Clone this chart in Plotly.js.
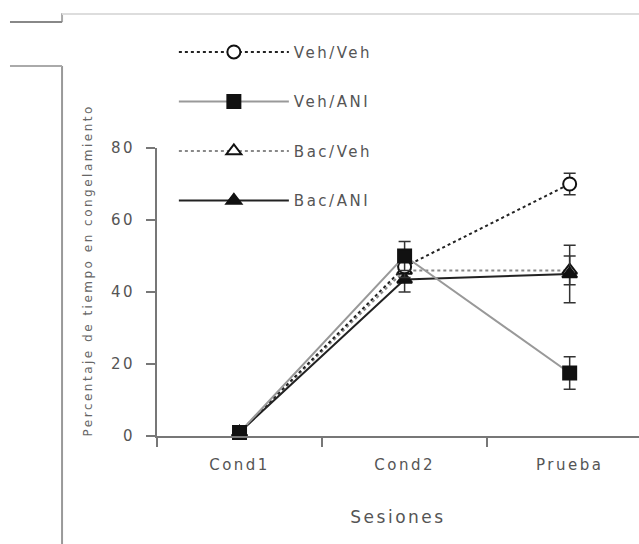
<!DOCTYPE html>
<html>
<head>
<meta charset="utf-8">
<script src="https://cdn.plot.ly/plotly-3.0.1.min.js"></script>
<style>
html,body{margin:0;padding:0;background:#fff;}
#chart{width:639px;height:544px;}
svg text{letter-spacing:2.5px;}
</style>
</head>
<body>
<div id="chart"></div>
<script>
// ---- data ----
var sessions = ['Cond1', 'Cond2', 'Prueba'];
var vehVeh = [1, 47, 70];
var vehVehErr = [0.5, 3, 3];
var vehAni = [1, 50, 17.5];
var vehAniErr = [0.5, 4, 4.5];
var bacVeh = [1, 46, 46];
var bacVehErr = [0.5, 3, 4];
var bacAni = [1, 43.5, 45];
var bacAniErr = [0.5, 3.5, 8];
var seriesNames = ['Veh/Veh', 'Veh/ANI', 'Bac/Veh', 'Bac/ANI'];
var yTicks = [0, 20, 40, 60, 80];

function tr(name, y, err, lineColor, dash, symbol, fill, group, rank) {
  return {
    type: 'scatter', mode: 'lines+markers', name: name, x: sessions, y: y,
    legendgroup: group, legendrank: rank, cliponaxis: false,
    line: {color: lineColor, width: 2, dash: dash},
    marker: {symbol: symbol, size: 13, color: fill, line: {color: '#111', width: 2}},
    error_y: {type: 'data', array: err, visible: true, color: '#333', thickness: 1.5, width: 6}
  };
}

var data = [
  tr(seriesNames[2], bacVeh, bacVehErr, '#888', 'dot', 'triangle-up', '#fff', 'c', 3),
  tr(seriesNames[3], bacAni, bacAniErr, '#222', 'solid', 'triangle-up', '#111', 'd', 4),
  tr(seriesNames[0], vehVeh, vehVehErr, '#222', 'dot', 'circle', '#fff', 'a', 1),
  tr(seriesNames[1], vehAni, vehAniErr, '#999', 'solid', 'square', '#111', 'b', 2)
];

var fam = 'DejaVu Sans, Arial, sans-serif';

var layout = {
  width: 639, height: 544,
  margin: {l: 157, r: 0, t: 148, b: 108, pad: 0},
  paper_bgcolor: '#fff', plot_bgcolor: '#fff',
  font: {family: fam, size: 15, color: '#555'},
  showlegend: true,
  legend: {
    x: 0.035, y: 1.39, xanchor: 'left', yanchor: 'top',
    traceorder: 'grouped', tracegroupgap: 27, itemwidth: 110,
    bgcolor: 'rgba(0,0,0,0)', font: {family: fam, size: 15, color: '#555'}
  },
  xaxis: {
    type: 'category', range: [-0.5, 2.42], fixedrange: true,
    showline: true, linecolor: '#777', linewidth: 2,
    ticks: 'outside', tickson: 'boundaries', ticklen: 9, tickcolor: '#777', tickwidth: 2,
    ticklabelstandoff: 14,
    showgrid: false, zeroline: false,
    tickfont: {family: fam, size: 15, color: '#555'},
    title: {text: 'Sesiones', standoff: 38, font: {family: fam, size: 17, color: '#555'}}
  },
  yaxis: {
    range: [0, 80], tickvals: yTicks, ticktext: yTicks.map(String),
    showline: true, linecolor: '#777', linewidth: 2,
    ticks: 'outside', ticklen: 9, tickcolor: '#777', tickwidth: 2,
    ticklabelstandoff: 8,
    showgrid: false, zeroline: false,
    tickfont: {family: fam, size: 15, color: '#555'}
  },
  annotations: [{
    text: 'Percentaje de tiempo en congelamiento', textangle: -90,
    xref: 'paper', yref: 'paper', x: -0.143, y: 0.575, xanchor: 'center', yanchor: 'middle',
    showarrow: false, font: {family: fam, size: 12, color: '#666'}
  }],
  shapes: [
    {type: 'line', xref: 'paper', yref: 'paper', x0: -0.197, x1: -0.197, y0: 1.285, y1: -0.38, line: {color: '#999', width: 2}},
    {type: 'line', xref: 'paper', yref: 'paper', x0: -0.197, x1: -0.197, y0: 1.468, y1: 1.437, line: {color: '#aaa', width: 2}},
    {type: 'line', xref: 'paper', yref: 'paper', x0: -0.197, x1: 1.0, y0: 1.465, y1: 1.465, line: {color: '#ddd', width: 2}},
    {type: 'line', xref: 'paper', yref: 'paper', x0: -0.305, x1: -0.197, y0: 1.4375, y1: 1.4375, line: {color: '#888', width: 2}},
    {type: 'line', xref: 'paper', yref: 'paper', x0: -0.305, x1: -0.197, y0: 1.285, y1: 1.285, line: {color: '#aaa', width: 2}}
  ]
};

Plotly.newPlot('chart', data, layout, {displayModeBar: false, staticPlot: true});
</script>
</body>
</html>
